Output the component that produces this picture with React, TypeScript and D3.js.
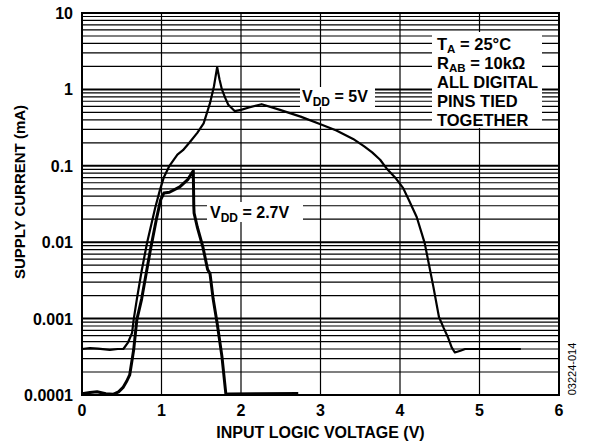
import React from 'react';
import * as d3 from 'd3';

const xTicks = [0, 1, 2, 3, 4, 5, 6];
const yTicks = [0.0001, 0.001, 0.01, 0.1, 1, 10];
const yTickLabels = ['0.0001', '0.001', '0.01', '0.1', '1', '10'];

const v5x = [0, 0.1, 0.2, 0.35, 0.45, 0.52, 0.58, 0.63, 0.65, 0.69, 0.75, 0.82, 0.92, 0.98, 1.03, 1.1, 1.2, 1.27, 1.35, 1.45, 1.53, 1.61, 1.66, 1.7, 1.73, 1.76, 1.8, 1.84, 1.92, 2.0, 2.1, 2.26, 2.49, 2.75, 3.0, 3.2, 3.41, 3.55, 3.65, 3.75, 3.84, 3.95, 4.04, 4.12, 4.21, 4.31, 4.42, 4.49, 4.55, 4.6, 4.65, 4.69, 4.76, 4.82, 5.0, 5.52];
const v5y = [0.0004, 0.00041, 0.000405, 0.00039, 0.0004, 0.0004, 0.00049, 0.00065, 0.00097, 0.0018, 0.0042, 0.01, 0.028, 0.048, 0.071, 0.1, 0.14, 0.16, 0.2, 0.27, 0.36, 0.66, 1.1, 1.96, 1.35, 1.0, 0.78, 0.63, 0.52, 0.54, 0.58, 0.64, 0.54, 0.44, 0.35, 0.29, 0.225, 0.18, 0.15, 0.12, 0.09, 0.068, 0.051, 0.034, 0.0214, 0.0098, 0.0026, 0.00105, 0.00075, 0.00058, 0.00042, 0.00036, 0.00038, 0.0004, 0.0004, 0.0004];

const v27x = [0, 0.1, 0.19, 0.3, 0.39, 0.46, 0.52, 0.56, 0.6, 0.65, 0.69, 0.75, 0.86, 0.94, 0.99, 1.03, 1.1, 1.23, 1.33, 1.4, 1.403, 1.406, 1.41, 1.45, 1.52, 1.58, 1.61, 1.65, 1.7, 1.76, 1.81, 1.85, 2.2, 2.72];
const v27y = [0.000104, 0.000108, 0.00011, 0.000104, 0.000102, 0.00011, 0.000127, 0.00015, 0.000183, 0.00039, 0.00097, 0.0018, 0.0079, 0.021, 0.036, 0.044, 0.045, 0.053, 0.066, 0.086, 0.05, 0.03, 0.024, 0.0158, 0.0087, 0.0044, 0.0039, 0.0018, 0.00087, 0.00032, 0.000102, 0.000103, 0.000104, 0.000105];

const FONT = 'Liberation Sans, Arial, Helvetica, sans-serif';

export default function App() {
  const W = 590, H = 444;
  const L = 82, R = 559, T = 13, B = 395;
  const x = d3.scaleLinear().domain([0, 6]).range([L, R]);
  const y = d3.scaleLog().domain([0.0001, 10]).range([B, T]);

  const minor: number[] = [];
  for (let d = -4; d <= 0; d++) {
    for (let m = 2; m <= 9; m++) minor.push(m * Math.pow(10, d));
  }
  const major = [0.001, 0.01, 0.1, 1];

  const line = d3.line<[number, number]>().x(d => x(d[0])).y(d => y(d[1])).curve(d3.curveLinear);
  const p5 = line(v5x.map((v, i) => [v, v5y[i]] as [number, number])) || '';
  const p27 = line(v27x.map((v, i) => [v, v27y[i]] as [number, number])) || '';

  return (
    <svg width={W} height={H} style={{ position: 'absolute', left: 0, top: 0, background: '#fff' }} fontFamily={FONT}>
      <rect x={0} y={0} width={W} height={H} fill="#fff" />
      {minor.map((v, i) => (
        <line key={'mn' + i} x1={L} x2={R} y1={y(v)} y2={y(v)} stroke="#000" strokeWidth={1.2} />
      ))}
      {major.map((v, i) => (
        <line key={'mj' + i} x1={L} x2={R} y1={y(v)} y2={y(v)} stroke="#000" strokeWidth={2} />
      ))}
      {xTicks.slice(1, -1).map((v, i) => (
        <line key={'vx' + i} x1={x(v)} x2={x(v)} y1={T} y2={B} stroke="#000" strokeWidth={1.2} />
      ))}
      {/* legend box */}
      <rect x={432} y={32} width={110} height={96} fill="#fff" />
      <g fontWeight="bold" fontSize={16.5} fill="#000">
        <text x={437} y={50}>T<tspan fontSize={11.5} dy={2.5}>A</tspan><tspan dy={-2.5}> = 25°C</tspan></text>
        <text x={437} y={69}>R<tspan fontSize={11.5} dy={2.5}>AB</tspan><tspan dy={-2.5}> = 10kΩ</tspan></text>
        <text x={437} y={88}>ALL DIGITAL</text>
        <text x={437} y={107}>PINS TIED</text>
        <text x={437} y={126}>TOGETHER</text>
      </g>
      {/* curve labels */}
      <rect x={300} y={87} width={75} height={20} fill="#fff" />
      <text x={302} y={102} fontWeight="bold" fontSize={16}>V<tspan fontSize={12} dy={3.5}>DD</tspan><tspan dy={-3.5}> = 5V</tspan></text>
      <rect x={207} y={202} width={96} height={20} fill="#fff" />
      <text x={210} y={218} fontWeight="bold" fontSize={16}>V<tspan fontSize={12} dy={3.5}>DD</tspan><tspan dy={-3.5}> = 2.7V</tspan></text>
      {/* curves */}
      <path d={p5} fill="none" stroke="#000" strokeWidth={2.2} strokeLinejoin="round" />
      <path d={p27} fill="none" stroke="#000" strokeWidth={3} strokeLinejoin="round" />
      {/* border */}
      <rect x={L} y={T} width={R - L} height={B - T} fill="none" stroke="#000" strokeWidth={2} />
      {/* ticks */}
      <g fontWeight="bold" fontSize={16} fill="#000">
        {yTicks.map((v, i) => (
          <text key={'yl' + i} x={73} y={y(v) + 6} textAnchor="end">{yTickLabels[i]}</text>
        ))}
        {xTicks.map((v, i) => (
          <text key={'xl' + i} x={x(v)} y={416} textAnchor="middle">{v}</text>
        ))}
      </g>
      <text x={(L + R) / 2} y={438} textAnchor="middle" fontWeight="bold" fontSize={16}>INPUT LOGIC VOLTAGE (V)</text>
      <text transform={`translate(25,${192}) rotate(-90)`} textAnchor="middle" fontWeight="bold" fontSize={15}>SUPPLY CURRENT (mA)</text>
      <text transform={`translate(576,${369}) rotate(-90)`} textAnchor="middle" fontSize={11}>03224-014</text>
    </svg>
  );
}
